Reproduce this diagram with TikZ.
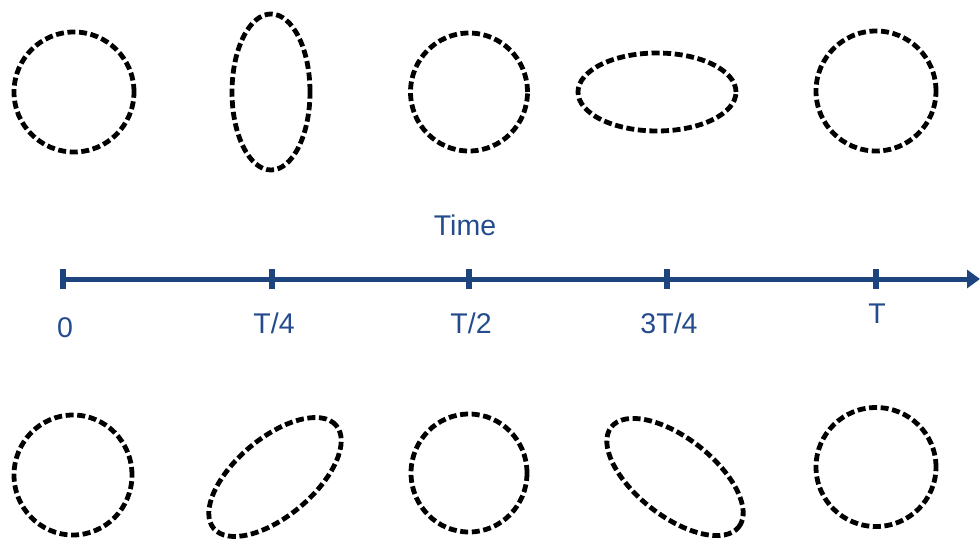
\documentclass[tikz,border=0pt]{standalone}
\usepackage{fontspec}
\setmainfont{Liberation Sans}
\usetikzlibrary{shapes.geometric,arrows.meta}
\definecolor{axisblue}{RGB}{30,68,128}
\definecolor{textblue}{RGB}{36,76,140}
\tikzset{
  ring/.style={ellipse, draw=black, line width=4.8pt, dash pattern=on 8pt off 3.6pt, inner sep=0pt, outer sep=0pt},
  axisline/.style={draw=axisblue, line width=5pt, -{Triangle[length=13pt,width=18pt]}},
  tickmark/.style={draw=axisblue, line width=5.5pt},
  lbl/.style={text=textblue, font=\fontsize{28.5}{30}\selectfont, inner sep=0pt, anchor=base}
}
\begin{document}
\begin{tikzpicture}[x=1pt,y=-1pt]
\useasboundingbox (0,0) rectangle (980,544);
% top row
\node[ring, minimum width=120pt, minimum height=120pt] (a1) at (74,92) {};
\node[ring, minimum width=78pt, minimum height=156pt] (a2) at (271,92) {};
\node[ring, minimum width=117pt, minimum height=118pt] (a3) at (469,92) {};
\node[ring, minimum width=158pt, minimum height=78pt] (a4) at (657,92) {};
\node[ring, minimum width=120pt, minimum height=120pt] (a5) at (876,91) {};
% bottom row
\node[ring, minimum width=118pt, minimum height=120pt] (b1) at (73,475) {};
\node[ring, minimum width=160pt, minimum height=78pt, rotate=40] (b2) at (275,477) {};
\node[ring, minimum width=116pt, minimum height=118pt] (b3) at (469,473) {};
\node[ring, minimum width=162pt, minimum height=78pt, rotate=-38] (b4) at (675,477) {};
\node[ring, minimum width=120pt, minimum height=119pt] (b5) at (876,467) {};
% axis
\coordinate (t0) at (63,279);
\coordinate (t1) at (272,279);
\coordinate (t2) at (469,279);
\coordinate (t3) at (667,279);
\coordinate (t4) at (876,279);
\coordinate (tip) at (980,279);
\draw[axisline] (t0) -- (tip);
\foreach \c in {t0,t1,t2,t3,t4}{
  \draw[tickmark] (\c) ++(0,-10) -- ++(0,20);
}
\node[lbl] (l0) at (65,337) {0};
\node[lbl] (l1) at (274,333) {T/4};
\node[lbl] (l2) at (471,333) {T/2};
\node[lbl] (l3) at (669,333) {3T/4};
\node[lbl] (l4) at (877,323) {T};
\node[lbl] (time) at (465,235) {Time};
\end{tikzpicture}
\end{document}
